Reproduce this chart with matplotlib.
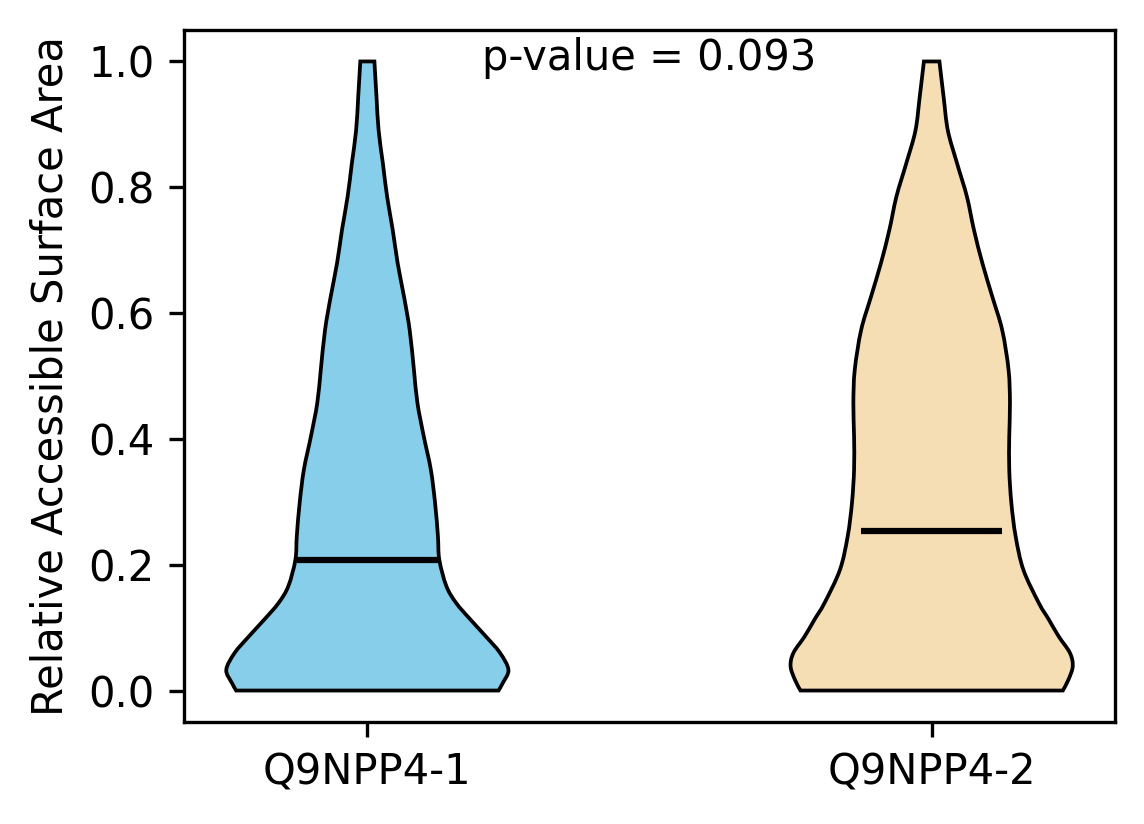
import numpy as np
import matplotlib
matplotlib.use("Agg")
import matplotlib.pyplot as plt
from matplotlib.path import Path
from matplotlib.patches import PathPatch

# isoform labels and colours
labels = ["Q9NPP4-1", "Q9NPP4-2"]
colors = ["#87CEEB", "#F5DEB3"]

# density profiles (relative to widest point)
y1 = [0.0, 0.012, 0.033, 0.06, 0.086, 0.113, 0.139, 0.166, 0.208, 0.246, 0.298,
      0.351, 0.404, 0.457, 0.51, 0.573, 0.626, 0.679, 0.732, 0.785, 0.838, 0.89,
      0.943, 1.0]
dens1 = [0.93, 0.96, 1.00, 0.94, 0.84, 0.73, 0.63, 0.56, 0.51, 0.50, 0.48,
         0.45, 0.40, 0.355, 0.33, 0.30, 0.26, 0.215, 0.18, 0.14, 0.11, 0.08,
         0.065, 0.05]

y2 = [0.0, 0.0175, 0.0386, 0.0598, 0.0862, 0.113, 0.139, 0.192, 0.2455, 0.298,
      0.351, 0.404, 0.457, 0.51, 0.573, 0.626, 0.679, 0.732, 0.785, 0.838, 0.89,
      0.943, 1.0]
dens2 = [0.93, 0.97, 1.00, 0.98, 0.90, 0.83, 0.76, 0.65, 0.595, 0.565,
         0.55, 0.55, 0.555, 0.545, 0.50, 0.43, 0.36, 0.30, 0.25, 0.18, 0.115,
         0.085, 0.055]

medians = [0.207, 0.254]
p_value = 0.093


def smooth_side(pts):
    # catmull-rom through the points, written as cubic bezier segments
    pts = np.asarray(pts, dtype=float)
    ext = np.vstack([pts[0], pts, pts[-1]])
    verts, codes = [], []
    for k in range(len(pts) - 1):
        p0, p1, p2, p3 = ext[k], ext[k + 1], ext[k + 2], ext[k + 3]
        verts += [p1 + (p2 - p0) / 6, p2 - (p3 - p1) / 6, p2]
        codes += [Path.CURVE4] * 3
    return verts, codes


def violin_path(pos, yy, dd, width):
    half = np.array(dd) * width / 2
    right = np.column_stack([pos + half, yy])
    left = np.column_stack([pos - half, yy])[::-1]
    verts = [right[0]]
    codes = [Path.MOVETO]
    v, c = smooth_side(right)
    verts += v
    codes += c
    verts.append(left[0])
    codes.append(Path.LINETO)
    v, c = smooth_side(left)
    verts += v
    codes += c
    verts.append(right[0])
    codes.append(Path.CLOSEPOLY)
    return Path(verts, codes)


fig = plt.figure(figsize=(1144 / 300, 824 / 300), dpi=300)
ax = fig.add_axes([0.1608, 0.1238, 0.8139, 0.8398])

width = 0.5
profiles = [(y1, dens1), (y2, dens2)]
for i, (yy, dd) in enumerate(profiles):
    pos = i + 1
    patch = PathPatch(violin_path(pos, yy, dd, width), facecolor=colors[i],
                      edgecolor="black", linewidth=0.9, zorder=2)
    ax.add_patch(patch)
    ax.hlines(medians[i], pos - width / 4, pos + width / 4, color="black",
              linewidth=1.5, zorder=3)

ax.set_xticks([1, 2])
ax.set_xticklabels(labels)
ax.set_xlim(0.675, 2.325)
ax.set_ylim(-0.05, 1.05)
ax.set_yticks(np.arange(0, 1.01, 0.2))
ax.set_ylabel("Relative Accessible Surface Area")

ax.text(0.5, 0.99, f"p-value = {p_value}", transform=ax.transAxes,
        ha="center", va="top")

fig.savefig("out.png", dpi=300)
